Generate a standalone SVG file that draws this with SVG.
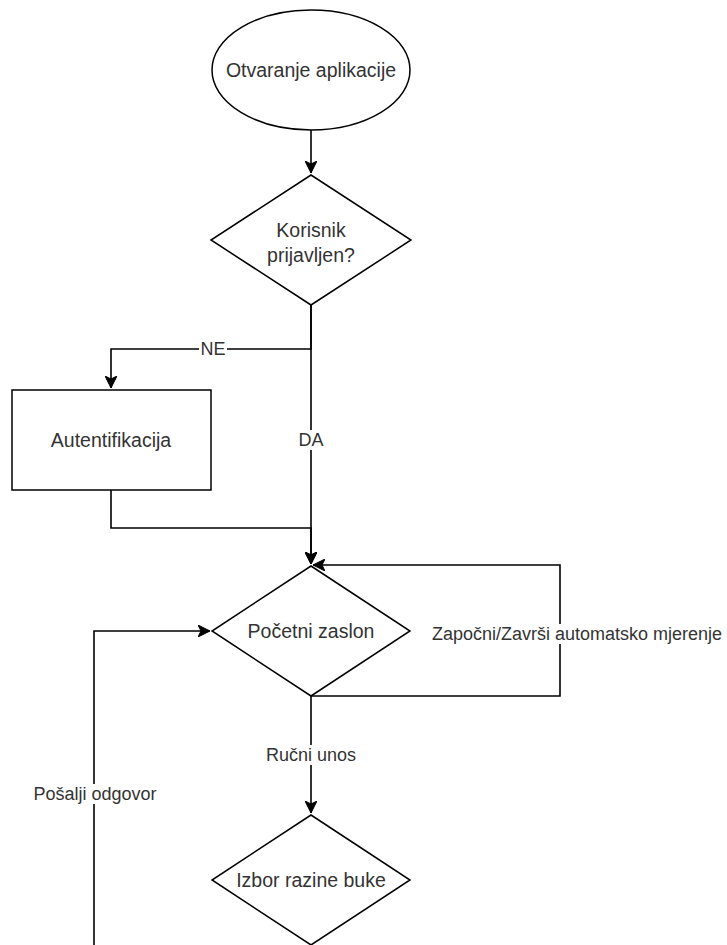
<svg xmlns="http://www.w3.org/2000/svg" width="727" height="945" viewBox="0 0 727 945">
<style>
.shape{fill:#ffffff;stroke:#000000;stroke-width:1.5}
.edge{fill:none;stroke:#000000;stroke-width:1.6}
.nt{font-family:"Liberation Sans",Arial,Helvetica,sans-serif;font-size:19.5px;fill:#333333;text-anchor:middle}
.et{font-family:"Liberation Sans",Arial,Helvetica,sans-serif;font-size:18px;fill:#333333;text-anchor:middle}
.bg{fill:#ffffff;stroke:none}
</style>
<defs>
<marker id="arr" markerUnits="userSpaceOnUse" markerWidth="14" markerHeight="12" refX="12" refY="6" orient="auto">
<path d="M0,0 L12,6 L0,12 L3,6 Z" fill="#000000" stroke="#000000" stroke-width="1"/>
</marker>
</defs>
<rect width="727" height="945" fill="#ffffff"/>
<g id="connectors">
<path class="edge" d="M311,130 L311,173" marker-end="url(#arr)"/>
<path class="edge" d="M311,305 L311,349 L111,349 L111,388" marker-end="url(#arr)"/>
<path class="edge" d="M311,305 L311,564" marker-end="url(#arr)"/>
<path class="edge" d="M111,490 L111,528 L311,528 L311,564" marker-end="url(#arr)"/>
<path class="edge" d="M311,696 L560,696 L560,565 L313,565" marker-end="url(#arr)"/>
<path class="edge" d="M311,696 L311,813" marker-end="url(#arr)"/>
<path class="edge" d="M94,945 L94,631 L210,631" marker-end="url(#arr)"/>
<g id="edge-labels">
<rect class="bg" x="199" y="339" width="28" height="20"/>
<text class="et" x="213" y="355">NE</text>
<rect class="bg" x="296" y="430" width="30" height="20"/>
<text class="et" x="311" y="446">DA</text>
<rect class="bg" x="430" y="624" width="294" height="20"/>
<text class="et" x="432" y="640" style="text-anchor:start">Započni/Završi automatsko mjerenje</text>
<rect class="bg" x="266" y="745" width="90" height="20"/>
<text class="et" x="311" y="761">Ručni unos</text>
<rect class="bg" x="32" y="784" width="126" height="20"/>
<text class="et" x="95" y="800">Pošalji odgovor</text>
</g>
</g>
<g id="start">
<ellipse class="shape" cx="311" cy="70" rx="99" ry="60"/>
<text class="nt" x="311" y="77">Otvaranje aplikacije</text>
</g>
<g id="logged-in">
<polygon class="shape" points="311,175 411,240 311,305 211,240"/>
<text class="nt" x="311" y="237">Korisnik</text>
<text class="nt" x="311" y="262">prijavljen?</text>
</g>
<g id="auth">
<rect class="shape" x="12" y="390" width="199" height="100"/>
<text class="nt" x="111" y="447">Autentifikacija</text>
</g>
<g id="home">
<polygon class="shape" points="311,566 410,631 311,696 212,631"/>
<text class="nt" x="311" y="638">Početni zaslon</text>
</g>
<g id="noise">
<polygon class="shape" points="311,815 410,880 311,945 212,880"/>
<text class="nt" x="311" y="887">Izbor razine buke</text>
</g>
</svg>
